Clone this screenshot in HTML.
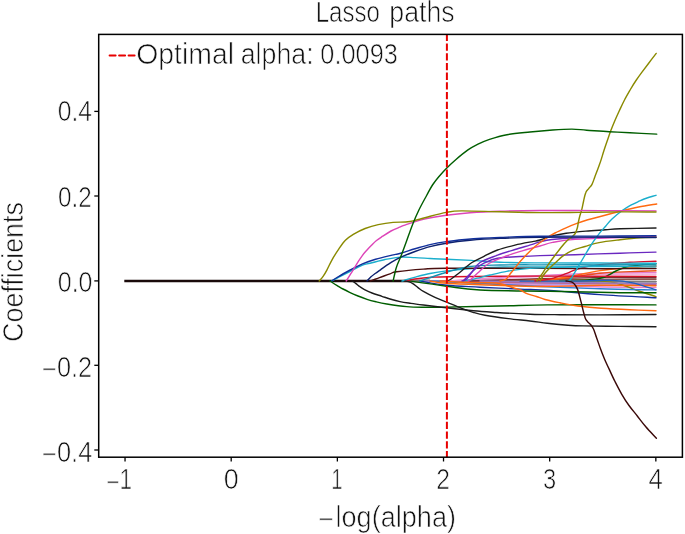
<!DOCTYPE html>
<html><head><meta charset="utf-8"><title>Lasso paths</title>
<style>
html,body{margin:0;padding:0;background:#fff;width:685px;height:534px;overflow:hidden}
svg{display:block}
text{font-family:"Liberation Sans",sans-serif;font-size:29px;fill:#111;stroke:#fff;stroke-width:0.7px}
</style></head><body>
<svg width="685" height="534" viewBox="0 0 685 534">
<g id="curves" fill="none" stroke-width="1.6" stroke-linejoin="round" stroke-linecap="round">
<path d="M124.3,281.0L430.0,281.0" stroke="#1a0a0a" stroke-width="2.40" stroke-linecap="butt"/>
<path d="M420.0,281.0C436.7,281.0 480.7,281.1 520.0,281.2C559.3,281.3 633.3,281.4 656.0,281.4" stroke="#5a4a4a" stroke-width="1.33"/>
<path d="M410.0,281.0C421.7,280.9 455.0,280.6 480.0,280.4C505.0,280.2 530.7,280.0 560.0,279.8C589.3,279.6 640.0,279.3 656.0,279.2" stroke="#8c564b" stroke-width="1.38"/>
<path d="M410.0,281.0C421.7,281.1 455.0,281.2 480.0,281.4C505.0,281.5 530.7,281.8 560.0,281.9C589.3,282.0 640.0,282.0 656.0,282.0" stroke="#8a8a8a" stroke-width="1.38"/>
<path d="M420.0,281.0C430.0,281.2 456.7,281.9 480.0,282.3C503.3,282.7 530.7,283.3 560.0,283.5C589.3,283.7 640.0,283.7 656.0,283.7" stroke="#a68ae0" stroke-width="1.42"/>
<path d="M430.0,281.0C441.7,281.4 475.0,282.6 500.0,283.2C525.0,283.8 554.0,284.4 580.0,284.8C606.0,285.2 643.3,285.4 656.0,285.5" stroke="#b49ae8" stroke-width="1.42"/>
<path d="M440.0,281.0C450.0,281.5 476.7,283.1 500.0,284.0C523.3,284.9 554.0,285.9 580.0,286.5C606.0,287.1 643.3,287.4 656.0,287.6" stroke="#e67ccc" stroke-width="1.42"/>
<path d="M440.0,281.0C453.3,281.2 493.3,282.1 520.0,282.5C546.7,282.9 577.3,283.2 600.0,283.5C622.7,283.8 646.7,284.1 656.0,284.2" stroke="#c06080" stroke-width="1.38"/>
<path d="M450.0,281.0C461.7,280.2 495.0,277.8 520.0,276.5C545.0,275.2 577.3,273.8 600.0,273.2C622.7,272.6 646.7,272.7 656.0,272.6" stroke="#e67ccc" stroke-width="1.42"/>
<path d="M450.0,281.0C461.7,280.4 495.0,278.5 520.0,277.4C545.0,276.3 577.3,274.9 600.0,274.4C622.7,273.8 646.7,274.2 656.0,274.1" stroke="#f09ad6" stroke-width="1.42"/>
<path d="M470.0,281.0C481.7,280.6 518.3,279.4 540.0,278.8C561.7,278.2 580.7,277.8 600.0,277.6C619.3,277.4 646.7,277.8 656.0,277.8" stroke="#7a3030" stroke-width="1.38"/>
<path d="M540.0,281.0C545.0,280.4 560.0,278.8 570.0,277.5C580.0,276.2 590.0,274.2 600.0,273.2C610.0,272.2 620.7,272.0 630.0,271.6C639.3,271.2 651.7,270.9 656.0,270.8" stroke="#e8501a" stroke-width="1.38"/>
<path d="M520.0,281.0C526.7,280.5 546.7,279.9 560.0,278.2C573.3,276.5 588.3,272.3 600.0,270.6C611.7,268.9 620.7,268.5 630.0,267.8C639.3,267.1 651.7,266.5 656.0,266.2" stroke="#ff6a10" stroke-width="1.38"/>
<path d="M560.0,281.0C566.5,280.6 589.7,280.3 599.0,278.6C608.3,276.9 610.9,273.1 615.9,271.0C620.9,268.9 622.6,267.5 629.3,266.3C636.0,265.1 651.5,264.2 656.0,263.8" stroke="#005e00" stroke-width="1.38"/>
<path d="M560.0,281.0C565.0,280.9 580.7,280.3 590.0,280.6C599.3,280.9 608.1,281.4 615.8,283.0C623.5,284.6 629.3,287.7 636.0,290.0C642.7,292.3 652.7,295.5 656.0,296.6" stroke="#8a8a00" stroke-width="1.38"/>
<path d="M420.0,281.0C424.4,281.7 436.7,284.2 446.7,285.2C456.7,286.2 467.8,286.5 480.0,287.2C492.2,287.9 508.3,288.6 520.0,289.1C531.7,289.6 536.7,289.5 550.0,290.4C563.3,291.3 582.3,293.4 600.0,294.6C617.7,295.8 646.7,297.2 656.0,297.7" stroke="#12309c" stroke-width="1.42"/>
<path d="M410.0,281.0C416.1,281.9 435.0,284.7 446.7,286.2C458.4,287.7 462.8,289.1 480.0,290.0C497.2,290.9 528.3,290.9 550.0,291.3C571.7,291.7 592.3,292.2 610.0,292.5C627.7,292.8 648.3,292.8 656.0,292.8" stroke="#005e00" stroke-width="1.42"/>
<path d="M430.0,281.0C436.7,281.3 451.7,282.1 470.0,283.0C488.3,283.9 518.3,285.5 540.0,286.5C561.7,287.5 580.7,288.2 600.0,288.8C619.3,289.4 646.7,289.7 656.0,289.9" stroke="#2a7fd0" stroke-width="1.38"/>
<path d="M430.0,281.0C432.8,281.4 438.4,282.7 446.7,283.3C455.0,283.9 464.4,284.2 480.0,284.7C495.6,285.2 520.0,286.4 540.0,286.5C560.0,286.6 580.7,285.3 600.0,285.2C619.3,285.1 646.7,285.7 656.0,285.8" stroke="#ff6a10" stroke-width="1.38"/>
<path d="M480.0,281.0C493.3,281.2 536.7,282.0 560.0,282.4C583.3,282.8 604.0,283.0 620.0,283.2C636.0,283.4 650.0,283.4 656.0,283.4" stroke="#9a78c0" stroke-width="1.38"/>
<path d="M520.0,281.0C530.0,281.0 564.6,281.1 580.0,281.0C595.4,280.9 603.7,280.0 612.5,280.3C621.3,280.6 625.5,281.2 632.7,282.8C640.0,284.4 652.1,288.7 656.0,289.9" stroke="#2060c0" stroke-width="1.33"/>
<path d="M405.0,281.0C406.7,280.7 410.5,279.6 415.0,279.0C419.5,278.4 426.2,277.7 432.0,277.3C437.8,276.9 435.3,276.9 450.0,276.7C464.7,276.5 495.0,276.2 520.0,276.1C545.0,276.0 577.3,276.2 600.0,276.3C622.7,276.4 646.7,276.4 656.0,276.4" stroke="#d4102a" stroke-width="1.42"/>
<path d="M535.0,281.0C537.8,280.6 546.2,279.9 551.5,278.6C556.8,277.3 562.2,275.0 566.7,273.4C571.2,271.8 572.9,270.2 578.4,268.7C583.9,267.2 591.4,265.7 600.0,264.6C608.6,263.5 620.7,262.9 630.0,262.3C639.3,261.7 651.7,261.4 656.0,261.2" stroke="#d4102a" stroke-width="1.42"/>
<path d="M402.0,281.0C404.1,280.4 409.7,278.6 414.4,277.3C419.1,276.1 424.7,274.6 430.0,273.5C435.3,272.4 439.4,271.7 446.4,270.9C453.4,270.1 462.4,269.2 472.0,268.6C481.6,268.0 492.7,267.3 504.0,267.0C515.3,266.7 528.2,266.9 540.0,266.9C551.8,266.9 565.0,267.1 575.0,266.8C585.0,266.6 586.5,265.9 600.0,265.4C613.5,264.9 646.7,264.1 656.0,263.8" stroke="#1aaecc" stroke-width="1.38"/>
<path d="M370.3,281.0C371.8,280.4 376.2,278.9 379.5,277.7C382.8,276.5 387.1,274.8 390.0,273.8C392.9,272.8 391.1,272.6 396.7,271.8C402.2,271.0 415.0,269.7 423.3,269.1C431.6,268.5 426.9,268.3 446.4,268.2C465.8,268.1 514.4,268.2 540.0,268.3C565.6,268.4 580.7,268.7 600.0,268.7C619.3,268.7 646.7,268.5 656.0,268.5" stroke="#4a1010" stroke-width="1.42"/>
<path d="M331.6,281.0C332.8,280.4 335.9,278.7 338.9,277.2C341.8,275.7 345.4,273.8 349.3,271.8C353.2,269.8 359.1,266.6 362.5,265.2C365.9,263.8 366.2,264.2 370.0,263.3C373.8,262.4 379.9,260.5 385.0,259.5C390.1,258.5 395.6,257.4 400.6,257.1C405.6,256.8 410.1,257.4 415.0,257.6C419.9,257.8 424.8,258.2 430.0,258.5C435.2,258.8 439.5,259.0 446.4,259.3C453.3,259.6 461.9,259.9 471.5,260.4C481.1,260.9 492.6,262.0 504.0,262.4C515.4,262.8 524.0,262.8 540.0,262.9C556.0,263.0 580.7,262.9 600.0,263.0C619.3,263.1 646.7,263.2 656.0,263.3" stroke="#1aaecc" stroke-width="1.42"/>
<path d="M463.0,281.0C464.2,280.8 467.6,280.5 470.0,280.0C472.4,279.5 474.2,279.0 477.5,278.2C480.8,277.4 485.1,276.1 490.0,275.0C494.9,273.9 501.7,272.3 506.7,271.4C511.7,270.4 514.5,269.9 520.0,269.3C525.5,268.7 530.8,268.2 540.0,267.8C549.2,267.4 565.0,267.0 575.0,266.8C585.0,266.6 586.5,266.6 600.0,266.6C613.5,266.6 646.7,266.8 656.0,266.8" stroke="#1aaecc" stroke-width="1.33"/>
<path d="M420.0,281.0C424.3,279.6 437.7,274.9 446.0,272.5C454.3,270.1 461.0,267.8 470.0,266.5C479.0,265.2 488.3,265.3 500.0,265.0C511.7,264.7 523.3,264.8 540.0,264.8C556.7,264.8 580.7,264.7 600.0,264.8C619.3,264.9 646.7,265.1 656.0,265.2" stroke="#1590b0" stroke-width="1.33"/>
<path d="M462.0,281.0C462.8,280.7 464.8,280.8 466.5,279.3C468.2,277.8 469.8,274.8 472.0,272.0C474.2,269.2 475.8,265.3 480.0,262.5C484.2,259.7 491.7,257.4 497.5,255.2C503.3,253.0 509.2,251.3 515.0,249.5C520.8,247.7 528.3,245.6 532.5,244.3C536.7,243.0 536.8,242.6 540.0,241.8C543.2,241.0 546.2,240.1 552.0,239.5C557.8,238.9 563.7,238.4 575.0,238.0C586.3,237.6 606.5,237.4 620.0,237.2C633.5,237.0 650.0,236.9 656.0,236.8" stroke="#6a28c0" stroke-width="1.38"/>
<path d="M463.0,281.0C463.8,280.2 466.0,278.0 468.0,276.0C470.0,274.0 472.3,271.3 475.0,269.2C477.7,267.1 480.2,265.0 484.0,263.2C487.8,261.4 491.5,259.4 497.5,258.3C503.5,257.2 512.9,256.9 520.0,256.5C527.1,256.1 530.8,255.9 540.0,255.6C549.2,255.3 561.7,255.1 575.0,254.7C588.3,254.3 606.5,253.6 620.0,253.2C633.5,252.8 650.0,252.3 656.0,252.1" stroke="#6a28c0" stroke-width="1.38"/>
<path d="M468.0,281.0C468.4,280.8 468.5,281.4 470.2,280.0C471.9,278.6 474.9,275.6 478.0,272.8C481.1,270.1 484.1,266.3 488.8,263.5C493.5,260.7 500.5,258.2 506.3,256.0C512.1,253.8 518.2,252.1 523.8,250.4C529.4,248.7 535.2,247.3 540.0,246.0C544.8,244.7 546.8,243.5 552.6,242.4C558.4,241.3 563.8,240.2 575.0,239.4C586.2,238.6 606.5,238.0 620.0,237.6C633.5,237.2 650.0,237.2 656.0,237.1" stroke="#dd45b8" stroke-width="1.38"/>
<path d="M447.0,281.0C447.7,280.7 449.0,280.5 451.2,279.0C453.4,277.5 456.5,274.9 460.0,272.2C463.5,269.4 468.0,265.1 472.0,262.5C476.0,259.9 479.8,258.4 484.0,256.3C488.2,254.2 492.3,251.9 497.5,250.0C502.7,248.1 509.2,246.5 515.0,245.1C520.8,243.7 528.3,242.4 532.5,241.6C536.7,240.8 536.6,241.0 540.0,240.0C543.4,239.0 548.7,236.8 553.1,235.7C557.5,234.6 560.7,234.0 566.2,233.2C571.7,232.4 579.3,231.7 585.9,231.1C592.5,230.5 599.9,230.2 605.6,229.8C611.3,229.4 611.6,229.1 620.0,228.8C628.4,228.5 650.0,228.1 656.0,228.0" stroke="#1c1c1c" stroke-width="1.38"/>
<path d="M500.0,281.0C501.0,280.7 504.1,280.6 505.8,279.3C507.6,278.1 508.9,275.5 510.5,273.5C512.1,271.5 513.8,269.5 515.5,267.3C517.2,265.1 519.1,262.6 521.0,260.5C522.9,258.4 524.4,256.7 526.7,254.4C529.0,252.1 532.0,249.0 535.0,246.5C538.0,244.0 541.1,241.8 544.4,239.5C547.7,237.2 551.4,234.9 555.0,233.0C558.6,231.1 562.4,229.4 566.0,227.8C569.6,226.2 573.3,224.7 576.9,223.4C580.5,222.1 583.1,221.2 587.8,219.8C592.5,218.4 599.5,216.6 605.0,215.2C610.5,213.8 614.9,212.6 620.5,211.2C626.1,209.8 632.6,208.2 638.6,207.0C644.6,205.8 653.7,204.5 656.7,204.0" stroke="#ff6a10" stroke-width="1.42"/>
<path d="M540.0,281.0C540.5,280.2 542.0,277.5 543.0,276.0C544.0,274.5 544.4,273.8 546.2,271.8C548.0,269.9 550.9,266.9 553.7,264.3C556.5,261.7 560.0,258.2 563.1,255.9C566.2,253.6 568.9,251.9 572.5,250.3C576.1,248.7 580.6,247.8 585.0,246.5C589.4,245.2 593.2,243.7 599.0,242.6C604.8,241.5 613.2,240.6 620.0,239.8C626.8,239.0 633.8,238.2 639.8,237.8C645.8,237.4 653.3,237.4 656.0,237.3" stroke="#8a8a00" stroke-width="1.42"/>
<path d="M537.0,281.0C537.5,280.2 539.2,277.9 540.2,276.5C541.2,275.1 541.4,274.8 542.8,272.8C544.2,270.8 546.4,267.1 548.4,264.3C550.4,261.5 552.4,258.8 554.5,256.0C556.6,253.2 559.0,250.0 561.0,247.5C563.0,245.0 564.8,242.9 566.5,241.2C568.2,239.5 570.0,238.6 571.5,237.3C573.0,236.0 574.2,235.1 575.2,233.5C576.2,231.9 576.8,229.8 577.3,228.0C577.8,226.2 577.9,224.5 578.3,222.5C578.7,220.5 579.2,218.3 579.8,216.0C580.4,213.7 581.4,211.1 582.0,208.6C582.6,206.1 583.0,203.7 583.6,201.0C584.2,198.3 584.9,194.7 585.8,192.6C586.6,190.5 587.7,190.0 588.7,188.6C589.7,187.2 591.0,186.2 592.0,184.3C593.0,182.4 593.8,179.7 594.8,177.0C595.8,174.3 597.2,170.8 598.2,168.0C599.2,165.2 600.1,162.9 601.0,160.1C601.9,157.3 602.8,154.1 603.8,151.0C604.8,147.9 605.9,144.6 607.0,141.5C608.1,138.4 609.0,135.5 610.2,132.2C611.5,128.9 613.0,125.0 614.5,121.5C616.0,118.0 617.5,114.6 619.2,111.0C620.9,107.4 622.6,103.6 624.5,100.0C626.4,96.4 628.5,92.8 630.4,89.5C632.3,86.2 634.1,83.3 636.0,80.5C637.9,77.7 639.5,75.4 641.6,72.6C643.7,69.8 646.1,66.7 648.5,63.5C650.9,60.3 654.9,55.1 656.2,53.4" stroke="#8a8a00" stroke-width="1.42"/>
<path d="M568.5,281.0C569.0,280.6 570.2,279.9 571.2,278.5C572.2,277.1 573.3,274.8 574.5,272.8C575.7,270.8 577.2,268.4 578.4,266.4C579.6,264.4 580.2,263.1 581.5,261.0C582.8,258.9 584.4,256.0 585.9,253.5C587.4,251.0 589.0,248.4 590.5,246.0C592.0,243.6 593.5,241.4 595.1,239.2C596.7,237.0 598.2,234.8 600.0,232.6C601.8,230.4 603.6,228.5 605.6,226.2C607.6,223.9 609.2,221.6 612.0,219.0C614.8,216.4 619.3,212.7 622.3,210.5C625.3,208.3 627.1,207.2 630.0,205.6C632.9,204.0 637.0,202.2 639.8,200.9C642.6,199.6 644.3,198.9 647.0,198.0C649.7,197.1 654.5,195.8 656.0,195.3" stroke="#1aaecc" stroke-width="1.42"/>
<path d="M331.6,281.0C332.8,280.2 335.9,278.1 338.9,276.4C341.8,274.6 345.4,272.6 349.3,270.5C353.2,268.4 358.1,265.8 362.5,263.9C366.9,262.0 371.0,260.7 375.6,259.3C380.2,257.9 385.8,256.6 390.0,255.6C394.2,254.6 396.4,254.3 400.6,253.2C404.8,252.1 410.1,250.2 415.0,248.8C419.9,247.4 424.8,245.8 430.0,244.6C435.2,243.4 440.6,242.4 446.4,241.6C452.2,240.8 459.1,240.1 465.0,239.5C470.9,238.9 475.9,238.5 481.7,238.2C487.5,237.8 490.3,237.7 500.0,237.4C509.7,237.1 523.3,236.5 540.0,236.3C556.7,236.1 580.7,236.2 600.0,236.1C619.3,236.0 646.7,235.7 656.0,235.6" stroke="#12309c" stroke-width="1.42"/>
<path d="M367.0,281.0C367.7,280.3 369.6,278.1 371.0,276.8C372.4,275.5 374.0,274.4 375.6,273.2C377.2,272.0 378.1,271.5 380.5,269.8C382.9,268.1 386.8,265.2 390.0,263.2C393.2,261.2 395.6,259.6 399.8,257.6C404.0,255.7 410.0,253.3 415.0,251.5C420.0,249.7 424.8,248.0 430.0,246.6C435.2,245.2 439.7,244.2 446.4,243.2C453.1,242.1 461.1,241.1 470.0,240.3C478.9,239.5 488.3,238.9 500.0,238.4C511.7,237.9 523.3,237.6 540.0,237.4C556.7,237.2 580.7,237.1 600.0,237.1C619.3,237.1 646.7,237.4 656.0,237.5" stroke="#0e2270" stroke-width="1.42"/>
<path d="M346.2,281.0C346.9,279.9 349.1,276.4 350.5,274.2C351.9,272.0 353.3,269.9 354.6,267.7C355.9,265.5 357.2,263.3 358.5,261.2C359.8,259.1 361.1,257.2 362.5,255.3C363.9,253.4 365.5,251.7 367.0,250.0C368.5,248.3 369.9,246.8 371.5,245.2C373.1,243.6 374.6,242.0 376.5,240.5C378.4,239.0 380.3,237.8 382.7,236.2C385.1,234.6 388.2,232.5 391.0,231.0C393.8,229.5 397.2,228.2 399.6,227.2C402.0,226.2 401.7,226.1 405.6,224.8C409.6,223.5 416.5,221.0 423.3,219.4C430.1,217.8 438.6,216.4 446.4,215.3C454.2,214.2 461.1,213.5 470.0,212.8C478.9,212.1 488.3,211.6 500.0,211.2C511.7,210.8 523.3,210.6 540.0,210.5C556.7,210.4 580.7,210.5 600.0,210.6C619.3,210.7 646.7,210.8 656.0,210.9" stroke="#dd45b8" stroke-width="1.42"/>
<path d="M319.2,281.0C319.9,280.2 321.8,278.3 323.1,276.4C324.4,274.5 325.5,272.6 327.0,269.8C328.5,267.0 330.3,262.8 332.3,259.3C334.3,255.8 336.7,252.1 338.9,248.9C341.1,245.7 343.0,242.7 345.4,240.3C347.8,237.9 350.0,236.4 353.3,234.4C356.6,232.4 361.0,230.1 365.1,228.5C369.2,226.9 373.5,225.6 378.2,224.6C382.9,223.6 388.5,222.8 393.1,222.4C397.7,222.0 402.1,222.3 405.6,222.0C409.2,221.7 410.5,221.5 414.4,220.6C418.2,219.7 423.4,218.1 428.7,216.7C434.0,215.3 441.0,213.4 446.4,212.4C451.8,211.4 452.4,211.0 461.3,210.9C470.2,210.8 486.9,211.5 500.0,211.8C513.1,212.1 526.7,212.5 540.0,212.6C553.3,212.7 566.7,212.5 580.0,212.4C593.3,212.3 607.3,212.0 620.0,211.9C632.7,211.8 650.0,212.0 656.0,212.0" stroke="#8a8a00" stroke-width="1.42"/>
<path d="M393.1,281.0C393.4,279.8 394.2,275.9 394.8,273.5C395.4,271.1 395.6,269.3 396.7,266.4C397.8,263.4 399.5,259.9 401.1,255.8C402.7,251.7 404.5,246.9 406.4,241.6C408.3,236.3 410.6,229.5 412.7,224.2C414.8,218.9 416.6,214.8 418.9,210.0C421.2,205.2 424.3,199.7 426.6,195.5C428.9,191.3 430.4,188.2 432.5,185.0C434.6,181.8 436.6,179.3 439.0,176.5C441.4,173.7 444.0,170.8 446.8,168.0C449.6,165.2 452.5,162.5 456.0,159.5C459.5,156.5 463.9,152.8 467.6,150.2C471.3,147.6 474.4,146.0 478.0,144.2C481.6,142.4 484.7,141.0 489.5,139.4C494.3,137.8 500.2,135.9 507.0,134.7C513.8,133.5 522.4,132.8 530.0,132.0C537.6,131.2 545.6,130.5 552.6,130.0C559.6,129.5 566.2,129.1 571.9,129.1C577.6,129.1 580.4,129.8 586.6,130.2C592.8,130.6 602.0,131.3 609.2,131.7C616.4,132.1 622.1,132.4 630.0,132.8C637.9,133.2 652.2,133.9 656.7,134.1" stroke="#005e00" stroke-width="1.42"/>
<path d="M329.8,281.0C330.3,281.3 331.8,282.2 333.0,283.0C334.2,283.8 335.5,284.6 337.2,285.6C338.9,286.6 340.9,287.9 343.0,289.0C345.1,290.1 347.1,291.1 349.6,292.3C352.1,293.5 355.1,294.8 358.0,296.0C360.9,297.2 364.0,298.3 367.0,299.3C370.0,300.3 372.7,301.0 376.0,301.8C379.3,302.6 381.7,303.2 386.8,304.0C391.9,304.8 400.5,306.1 406.7,306.6C412.9,307.2 417.4,307.2 424.0,307.3C430.6,307.4 437.8,307.2 446.4,307.1C455.0,307.0 465.2,306.7 475.8,306.5C486.4,306.3 498.1,306.0 510.0,305.7C521.9,305.4 532.3,305.0 547.3,304.9C562.3,304.8 581.9,304.8 600.0,304.8C618.1,304.8 646.7,304.9 656.0,304.9" stroke="#005e00" stroke-width="1.42"/>
<path d="M352.0,281.0C352.7,281.4 354.7,282.6 356.0,283.6C357.3,284.6 358.6,285.8 360.0,286.8C361.4,287.8 362.5,288.6 364.5,289.6C366.5,290.6 369.1,291.9 372.0,293.0C374.9,294.1 378.9,295.3 381.9,296.3C384.9,297.3 387.0,298.1 390.0,299.0C393.0,299.9 396.5,300.9 400.0,301.6C403.5,302.3 407.1,302.8 411.0,303.4C414.9,304.0 417.4,304.3 423.4,305.0C429.3,305.7 438.4,306.8 446.7,307.8C455.0,308.8 465.1,310.0 473.4,310.8C481.7,311.6 487.3,311.9 496.7,312.5C506.1,313.1 519.5,313.8 530.0,314.2C540.5,314.6 548.3,314.6 560.0,314.7C571.7,314.8 584.0,314.9 600.0,314.9C616.0,314.9 646.7,314.6 656.0,314.5" stroke="#1c1c1c" stroke-width="1.38"/>
<path d="M405.0,281.0C405.6,281.1 407.2,281.3 408.5,281.7C409.8,282.1 411.2,282.6 412.8,283.6C414.4,284.6 416.2,286.3 418.0,287.6C419.8,288.9 420.6,289.8 423.4,291.4C426.2,293.0 431.1,295.6 435.0,297.4C438.9,299.2 442.2,300.4 446.7,302.2C451.1,304.0 457.3,306.7 461.7,308.4C466.1,310.1 469.1,311.2 473.0,312.3C476.9,313.4 479.1,314.1 485.0,315.2C490.9,316.2 500.9,317.6 508.4,318.6C515.9,319.6 523.5,320.2 530.0,321.0C536.5,321.8 541.5,322.6 547.3,323.3C553.1,324.0 559.0,324.6 565.0,325.0C571.0,325.4 573.8,325.7 583.0,325.9C592.2,326.1 607.8,326.2 620.0,326.4C632.2,326.5 650.0,326.7 656.0,326.8" stroke="#1c1c1c" stroke-width="1.38"/>
<path d="M440.0,281.0C443.3,281.2 453.3,281.9 460.0,282.2C466.7,282.5 474.0,282.7 480.0,282.8C486.0,282.9 491.8,282.6 496.0,283.0C500.2,283.4 501.8,284.1 505.0,285.0C508.2,285.9 512.8,287.7 515.3,288.5C517.8,289.3 518.2,289.1 520.3,290.0C522.3,290.9 524.9,292.7 527.6,293.8C530.3,294.9 533.5,295.6 536.4,296.5C539.3,297.4 541.1,298.4 545.0,299.5C548.9,300.6 554.5,301.7 560.0,302.8C565.5,303.9 571.2,305.1 578.0,306.0C584.8,306.9 592.3,307.7 601.0,308.3C609.7,308.9 620.8,309.4 630.0,309.8C639.2,310.2 651.7,310.6 656.0,310.8" stroke="#ff6a10" stroke-width="1.42"/>
<path d="M566.0,281.0C567.0,281.2 570.4,281.4 572.0,282.2C573.6,282.9 574.5,284.2 575.5,285.5C576.5,286.8 577.1,288.3 577.8,290.0C578.4,291.7 578.8,293.2 579.4,295.5C580.0,297.8 580.8,300.8 581.5,303.7C582.2,306.6 583.0,310.2 583.7,312.7C584.4,315.2 584.9,317.3 585.5,318.8C586.1,320.3 586.7,320.7 587.5,321.6C588.3,322.6 589.5,323.3 590.5,324.5C591.5,325.7 592.5,326.8 593.5,329.0C594.5,331.2 595.4,334.3 596.5,337.5C597.6,340.7 598.9,344.4 600.2,348.0C601.5,351.6 603.0,355.4 604.5,359.0C606.0,362.6 607.6,365.9 609.4,369.6C611.1,373.4 612.9,377.4 615.0,381.5C617.1,385.6 619.5,390.3 621.8,394.3C624.1,398.3 626.4,401.9 629.0,405.5C631.6,409.1 634.5,412.4 637.3,416.0C640.1,419.6 642.8,423.3 646.0,427.0C649.2,430.7 654.7,436.3 656.4,438.2" stroke="#3a0808" stroke-width="1.42"/>
</g>
<line x1="446.9" y1="34.4" x2="446.9" y2="457.2" stroke="#e80000" stroke-width="2" stroke-dasharray="7.3 2.4" stroke-dashoffset="0.6"/>
<rect x="98.7" y="34.4" width="583.7" height="422.8" fill="none" stroke="#000" stroke-width="1.5"/>
<g stroke="#000" stroke-width="1.3">
<line x1="94.3" y1="111.4" x2="98.7" y2="111.4"/>
<line x1="94.3" y1="196.0" x2="98.7" y2="196.0"/>
<line x1="94.3" y1="280.9" x2="98.7" y2="280.9"/>
<line x1="94.3" y1="365.3" x2="98.7" y2="365.3"/>
<line x1="94.3" y1="450.0" x2="98.7" y2="450.0"/>
<line x1="125.04" y1="457.2" x2="125.04" y2="461.5"/>
<line x1="231.2" y1="457.2" x2="231.2" y2="461.5"/>
<line x1="337.36" y1="457.2" x2="337.36" y2="461.5"/>
<line x1="443.52" y1="457.2" x2="443.52" y2="461.5"/>
<line x1="549.68" y1="457.2" x2="549.68" y2="461.5"/>
<line x1="655.84" y1="457.2" x2="655.84" y2="461.5"/>
</g>
<text x="57.74" y="121.30" textLength="34.21" lengthAdjust="spacingAndGlyphs">0.4</text>
<text x="57.95" y="206.60" textLength="33.77" lengthAdjust="spacingAndGlyphs">0.2</text>
<text x="57.74" y="291.60" textLength="34.76" lengthAdjust="spacingAndGlyphs">0.0</text>
<text x="42.12" y="376.60" textLength="49.99" lengthAdjust="spacingAndGlyphs"><tspan dy="2.4">−</tspan><tspan dy="-2.4">0.2</tspan></text>
<text x="42.11" y="461.50" textLength="50.21" lengthAdjust="spacingAndGlyphs"><tspan dy="2.4">−</tspan><tspan dy="-2.4">0.4</tspan></text>
<text x="106.45" y="489.20" textLength="25.65" lengthAdjust="spacingAndGlyphs"><tspan dy="2.4">−</tspan><tspan dy="-2.4">1</tspan></text>
<text x="223.84" y="489.20" textLength="14.95" lengthAdjust="spacingAndGlyphs">0</text>
<text x="331.20" y="489.20" textLength="11.30" lengthAdjust="spacingAndGlyphs">1</text>
<text x="436.13" y="489.20" textLength="13.75" lengthAdjust="spacingAndGlyphs">2</text>
<text x="542.89" y="489.20" textLength="13.20" lengthAdjust="spacingAndGlyphs">3</text>
<text x="648.61" y="489.20" textLength="14.32" lengthAdjust="spacingAndGlyphs">4</text>
<text x="318.25" y="526.80" textLength="15.77" lengthAdjust="spacingAndGlyphs"><tspan dy="2.4">−</tspan><tspan dy="-2.4"></tspan></text>
<text x="335.46" y="526.80" textLength="120.59" lengthAdjust="spacingAndGlyphs">log(alpha)</text>
<text x="315.74" y="22.00" textLength="64.22" lengthAdjust="spacingAndGlyphs">Lasso</text>
<text x="389.27" y="22.00" textLength="65.41" lengthAdjust="spacingAndGlyphs">paths</text>
<text x="136.22" y="64.30" textLength="97.87" lengthAdjust="spacingAndGlyphs">Optimal</text>
<text x="240.68" y="64.30" textLength="72.99" lengthAdjust="spacingAndGlyphs">alpha:</text>
<text x="320.32" y="64.30" textLength="77.50" lengthAdjust="spacingAndGlyphs">0.0093</text>
<text transform="translate(22.80,341.93) rotate(-90)" textLength="139.85" lengthAdjust="spacingAndGlyphs">Coefficients</text>
<line x1="109.6" y1="55.6" x2="134.6" y2="55.6" stroke="#e80000" stroke-width="2" stroke-linecap="round" stroke-dasharray="6 3.5"/>
</svg>
</body></html>
